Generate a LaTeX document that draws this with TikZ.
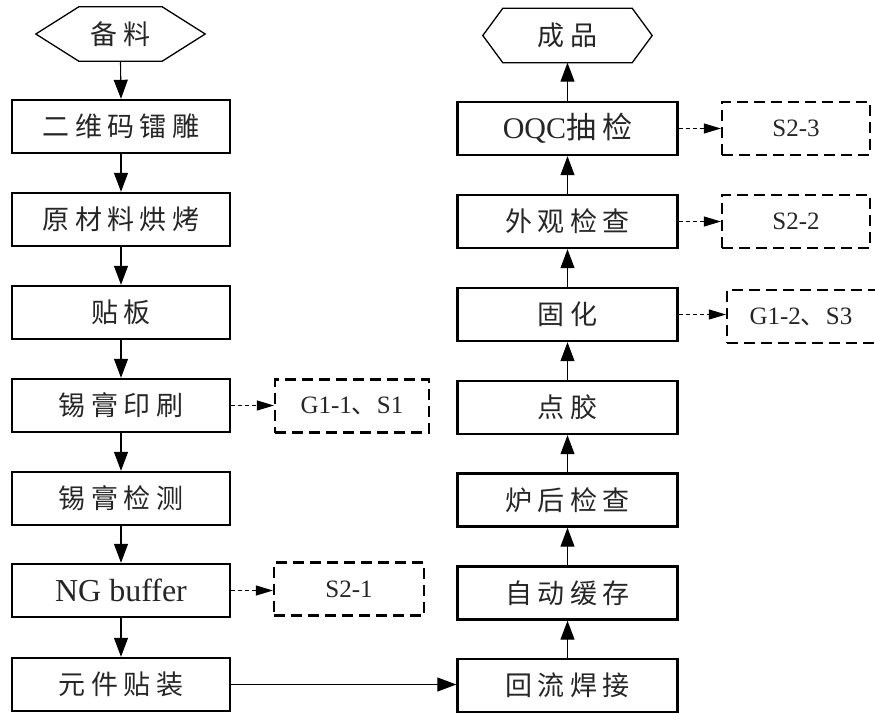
\documentclass[tikz,border=0pt]{standalone}
\usepackage{fontspec}
\setmainfont{Liberation Serif}
\newfontfamily\cjk[LetterSpace=20]{Noto Sans CJK SC}
\newfontfamily\cjkplain{Noto Sans CJK SC}
\usetikzlibrary{arrows.meta}
\begin{document}
\begin{tikzpicture}[x=1pt,y=-1pt,
  box/.style={draw, line width=2.4pt, minimum width=218pt, minimum height=53pt, inner sep=0pt,
    font=\fontsize{27}{30}\selectfont, text=black!85},
  rbox/.style={box, minimum width=220pt},
  hexlabel/.style={minimum width=169pt, minimum height=54pt, inner sep=0pt,
    font=\fontsize{27}{30}\selectfont, text=black!85},
  hexline/.style={line width=1.3pt},
  dbox/.style={draw, line width=2.2pt, dash pattern=on 11pt off 6pt, minimum height=53pt, inner sep=0pt,
    font=\fontsize{25}{28}\selectfont, text=black!85},
  conn/.style={line width=1.1pt, -{Triangle[length=19pt,width=14pt]}},
  dconn/.style={line width=1pt, dash pattern=on 4pt off 3pt, -{Triangle[length=17pt,width=10pt]}}
]
\useasboundingbox (0,0) rectangle (875,713);
\clip (0,0) rectangle (875,713);
\fill[white] (0,0) rectangle (875,713);

% left column
\node[hexlabel] (bl) at (120.5,34) {\cjk 备料};
\draw[hexline] (bl.west) -- ([xshift=43pt]bl.north west) -- ([xshift=-43pt]bl.north east) -- (bl.east)
  -- ([xshift=-43pt]bl.south east) -- ([xshift=43pt]bl.south west) -- cycle;
\node[box] (l1) at (121,126.5) {\cjk 二维码镭雕};
\node[box] (l2) at (121,219.5) {\cjk 原材料烘烤};
\node[box] (l3) at (121,312.5) {\cjk 贴板};
\node[box] (l4) at (121,405.5) {\cjk 锡膏印刷};
\node[box] (l5) at (121,498.5) {\cjk 锡膏检测};
\node[box, font=\fontsize{32}{36}\selectfont] (l6) at (121,590.5) {NG buffer};
\node[box] (l7) at (121,684.5) {\cjk 元件贴装};

% right column
\node[hexlabel] (cp) at (567.5,35.5) {\cjk 成品};
\draw[hexline] (cp.west) -- ([xshift=20pt]cp.north west) -- ([xshift=-20pt]cp.north east) -- (cp.east)
  -- ([xshift=-20pt]cp.south east) -- ([xshift=20pt]cp.south west) -- cycle;
\node[rbox] (r1) at (567.5,128.5) {\fontsize{30}{34}\selectfont OQC\cjk 抽检};
\node[rbox] (r2) at (567.5,221.5) {\cjk 外观检查};
\node[rbox] (r3) at (567.5,314.5) {\cjk 固化};
\node[rbox] (r4) at (567.5,407.5) {\cjk 点胶};
\node[rbox] (r5) at (567.5,500) {\cjk 炉后检查};
\node[rbox] (r6) at (567.5,593) {\cjk 自动缓存};
\node[rbox] (r7) at (567.5,685.5) {\cjk 回流焊接};

% dashed boxes
\node[dbox, minimum width=154pt] (d1) at (352,406) {G1-1{\cjkplain 、}S1};
\node[dbox, minimum width=150pt] (d2) at (349,589) {S2-1};
\node[dbox, minimum width=148pt] (d3) at (796,128.5) {S2-3};
\node[dbox, minimum width=148pt] (d4) at (796,221.5) {S2-2};
\node[dbox, minimum width=160pt] (d5) at (807,316.5) {\hspace*{-12pt}G1-2{\cjkplain 、}S3};

% left connectors
\draw[conn] (bl.south) -- (l1.north);
\draw[conn] (l1.south) -- (l2.north);
\draw[conn] (l2.south) -- (l3.north);
\draw[conn] (l3.south) -- (l4.north);
\draw[conn] (l4.south) -- (l5.north);
\draw[conn] (l5.south) -- (l6.north);
\draw[conn] (l6.south) -- (l7.north);
\draw[conn] (l7.east) -- (l7.east -| r7.west);

% right connectors
\draw[conn] (r7.north) -- (r6.south);
\draw[conn] (r6.north) -- (r5.south);
\draw[conn] (r5.north) -- (r4.south);
\draw[conn] (r4.north) -- (r3.south);
\draw[conn] (r3.north) -- (r2.south);
\draw[conn] (r2.north) -- (r1.south);
\draw[conn] (r1.north) -- (cp.south);

% dashed connectors
\draw[dconn] (l4.east) -- (l4.east -| d1.west);
\draw[dconn] (l6.east) -- (l6.east -| d2.west);
\draw[dconn] (r1.east) -- (r1.east -| d3.west);
\draw[dconn] (r2.east) -- (r2.east -| d4.west);
\draw[dconn] (r3.east) -- (r3.east -| d5.west);
\end{tikzpicture}
\end{document}
